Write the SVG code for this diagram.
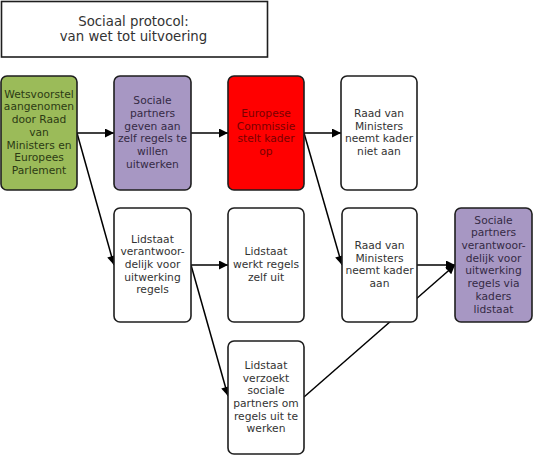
<svg xmlns="http://www.w3.org/2000/svg" width="534" height="458" viewBox="0 0 534 458">
<defs>
<style>
.box{stroke:#1e1e1e;stroke-width:1.6}
.w{fill:#ffffff}
.g{fill:#9bbb59}
.p{fill:#a797c3}
.r{fill:#ff0000}
text{font-family:"DejaVu Sans","Verdana",sans-serif;font-size:10.7px;text-anchor:middle;fill:#333333}
.tg{fill:#2c3a14}
.tp{fill:#352a45}
.tr{fill:#7a0000}
.title{font-size:13.3px}
.c{stroke:#000;stroke-width:1.5;fill:none;marker-end:url(#ah)}
</style>
<marker id="ah" viewBox="0 0 10 10" refX="10" refY="5" markerWidth="10" markerHeight="9" markerUnits="userSpaceOnUse" orient="auto">
<path d="M0,0 L10,5 L0,10 Z" fill="#000"/>
</marker>
</defs>
<rect width="534" height="458" fill="#ffffff"/>

<g id="title">
<rect x="1.5" y="1.5" width="266" height="55.5" fill="#fff" stroke="#1e1e1e" stroke-width="1.6"/>
<text class="title" x="133.5" y="25.5">Sociaal protocol:</text>
<text class="title" x="133.5" y="40.5">van wet tot uitvoering</text>
</g>

<g id="connectors">
<line class="c" x1="77" y1="133" x2="114" y2="133"/>
<line class="c" x1="191" y1="133" x2="228" y2="133"/>
<line class="c" x1="304" y1="133" x2="341" y2="133"/>
<line class="c" x1="77" y1="133" x2="114" y2="265"/>
<line class="c" x1="191" y1="265" x2="228" y2="265"/>
<line class="c" x1="191" y1="265" x2="228" y2="396"/>
<line class="c" x1="304" y1="133" x2="342" y2="265"/>
<line class="c" x1="417" y1="265" x2="455" y2="265"/>
<line class="c" x1="304" y1="397" x2="455" y2="265"/>
</g>

<g id="n-wetsvoorstel">
<rect class="box g" x="1" y="76" width="76" height="114" rx="6"/>
<text class="tg" x="39" y="97.7">Wetsvoorstel</text>
<text class="tg" x="39" y="110.4">aangenomen</text>
<text class="tg" x="39" y="123.1">door Raad</text>
<text class="tg" x="39" y="135.8">van</text>
<text class="tg" x="39" y="148.5">Ministers en</text>
<text class="tg" x="39" y="161.2">Europees</text>
<text class="tg" x="39" y="173.9">Parlement</text>
</g>

<g id="n-sociale-partners">
<rect class="box p" x="114" y="76" width="77" height="114" rx="6"/>
<text class="tp" x="152.5" y="104.2">Sociale</text>
<text class="tp" x="152.5" y="116.9">partners</text>
<text class="tp" x="152.5" y="129.6">geven aan</text>
<text class="tp" x="152.5" y="142.3">zelf regels te</text>
<text class="tp" x="152.5" y="155">willen</text>
<text class="tp" x="152.5" y="167.7">uitwerken</text>
</g>

<g id="n-commissie">
<rect class="box r" x="228" y="76" width="76" height="114" rx="6"/>
<text class="tr" x="266" y="117">Europese</text>
<text class="tr" x="266" y="129.7">Commissie</text>
<text class="tr" x="266" y="142.4">stelt kader</text>
<text class="tr" x="266" y="155.1">op</text>
</g>

<g id="n-niet-aan">
<rect class="box w" x="341" y="76" width="76" height="114" rx="6"/>
<text x="379" y="117">Raad van</text>
<text x="379" y="129.7">Ministers</text>
<text x="379" y="142.4">neemt kader</text>
<text x="379" y="155.1">niet aan</text>
</g>

<g id="n-lidstaat-verantw">
<rect class="box w" x="114" y="208" width="77" height="114" rx="6"/>
<text x="152.5" y="242.6">Lidstaat</text>
<text x="152.5" y="255.3">verantwoor-</text>
<text x="152.5" y="268">delijk voor</text>
<text x="152.5" y="280.7">uitwerking</text>
<text x="152.5" y="293.4">regels</text>
</g>

<g id="n-lidstaat-werkt">
<rect class="box w" x="228" y="208" width="76" height="114" rx="6"/>
<text x="266" y="255.3">Lidstaat</text>
<text x="266" y="268">werkt regels</text>
<text x="266" y="280.7">zelf uit</text>
</g>

<g id="n-aan">
<rect class="box w" x="342" y="208" width="75" height="114" rx="6"/>
<text x="379.5" y="249">Raad van</text>
<text x="379.5" y="261.7">Ministers</text>
<text x="379.5" y="274.4">neemt kader</text>
<text x="379.5" y="287.1">aan</text>
</g>

<g id="n-sociale-lidstaat">
<rect class="box p" x="455" y="208" width="77" height="114" rx="6"/>
<text class="tp" x="493.5" y="223.6">Sociale</text>
<text class="tp" x="493.5" y="236.3">partners</text>
<text class="tp" x="493.5" y="249">verantwoor-</text>
<text class="tp" x="493.5" y="261.7">delijk voor</text>
<text class="tp" x="493.5" y="274.4">uitwerking</text>
<text class="tp" x="493.5" y="287.1">regels via</text>
<text class="tp" x="493.5" y="299.8">kaders</text>
<text class="tp" x="493.5" y="312.5">lidstaat</text>
</g>

<g id="n-lidstaat-verzoekt">
<rect class="box w" x="228" y="341" width="76" height="113" rx="6"/>
<text x="266" y="368.8">Lidstaat</text>
<text x="266" y="381.5">verzoekt</text>
<text x="266" y="394.2">sociale</text>
<text x="266" y="406.9">partners om</text>
<text x="266" y="419.6">regels uit te</text>
<text x="266" y="432.3">werken</text>
</g>
</svg>
